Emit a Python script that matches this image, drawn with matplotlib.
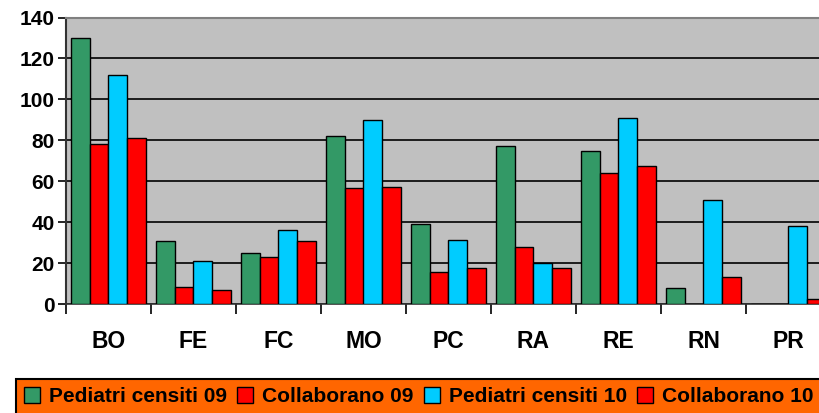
import numpy as np
import matplotlib
matplotlib.use("Agg")
import matplotlib.pyplot as plt
from matplotlib.patches import Patch

provinces = ['BO', 'FE', 'FC', 'MO', 'PC', 'RA', 'RE', 'RN', 'PR']
censiti_09 = [130, 31, 25, 82, 39, 77, 75, 8, 0]
collab_09 = [78, 8.5, 23, 56.5, 15.5, 28, 64, 0, 0]
censiti_10 = [112, 21, 36, 90, 31.5, 20, 91, 51, 38]
collab_10 = [81, 7, 31, 57, 17.5, 17.5, 67.5, 13, 2.5]

series_names = ['Pediatri censiti 09', 'Collaborano 09',
                'Pediatri censiti 10', 'Collaborano 10']
series_colors = ['#339966', '#FF0000', '#00CCFF', '#FF0000']

plt.rcParams['font.family'] = ['Liberation Sans', 'DejaVu Sans']

fig = plt.figure(figsize=(8.2, 4.13), dpi=100)
ax = fig.add_axes([66 / 820, 1 - 304 / 413, 765 / 820, 286.5 / 413])
ax.set_facecolor('#C0C0C0')

x = np.arange(len(provinces)) + 0.5
width = 0.2235
all_series = [censiti_09, collab_09, censiti_10, collab_10]
for i, (vals, col) in enumerate(zip(all_series, series_colors)):
    ax.bar(x + (i - 1.5) * width, vals, width, color=col,
           edgecolor='black', linewidth=1.0, zorder=3)

ax.set_xlim(0, len(provinces))
ax.set_ylim(0, 140)
ax.set_yticks(range(0, 141, 20))
ax.yaxis.grid(True, color='black', linewidth=1.2, zorder=0)
ax.set_axisbelow(True)

# category boundaries as major ticks, names as minor ticks
ax.set_xticks(range(len(provinces) + 1))
ax.set_xticklabels([])
ax.set_xticks(x, minor=True)
ax.set_xticklabels(provinces, minor=True, fontsize=16.5, fontweight='bold')
ax.tick_params(axis='x', which='major', length=7, width=1.2, direction='out')
ax.tick_params(axis='x', which='minor', length=0, pad=19)
ax.tick_params(axis='y', length=6, width=1.2, labelsize=15, pad=2)
for lab in ax.get_yticklabels():
    lab.set_fontweight('bold')

ax.spines['top'].set_color('#808080')
ax.spines['top'].set_linewidth(1.5)
ax.spines['right'].set_visible(False)
ax.spines['left'].set_linewidth(1.5)
ax.spines['left'].set_color('#333333')
ax.spines['bottom'].set_linewidth(1.2)
ax.spines['bottom'].set_color('#333333')

handles = [Patch(facecolor=c, edgecolor='black', linewidth=1.0)
           for c in series_colors]
leg = fig.legend(handles, series_names, loc='upper left',
                 bbox_to_anchor=(16 / 820, 0, 806 / 820, 1 - 379 / 413),
                 mode='expand', ncol=4, frameon=True, fancybox=False,
                 facecolor='#FF6600', edgecolor='black', framealpha=1,
                 handlelength=0.75, handleheight=0.75, handletextpad=0.45,
                 columnspacing=0.6, borderaxespad=0, borderpad=0.4,
                 prop={'weight': 'bold', 'size': 15})
leg.get_frame().set_linewidth(1.5)

fig.savefig('out.png', dpi=100)
